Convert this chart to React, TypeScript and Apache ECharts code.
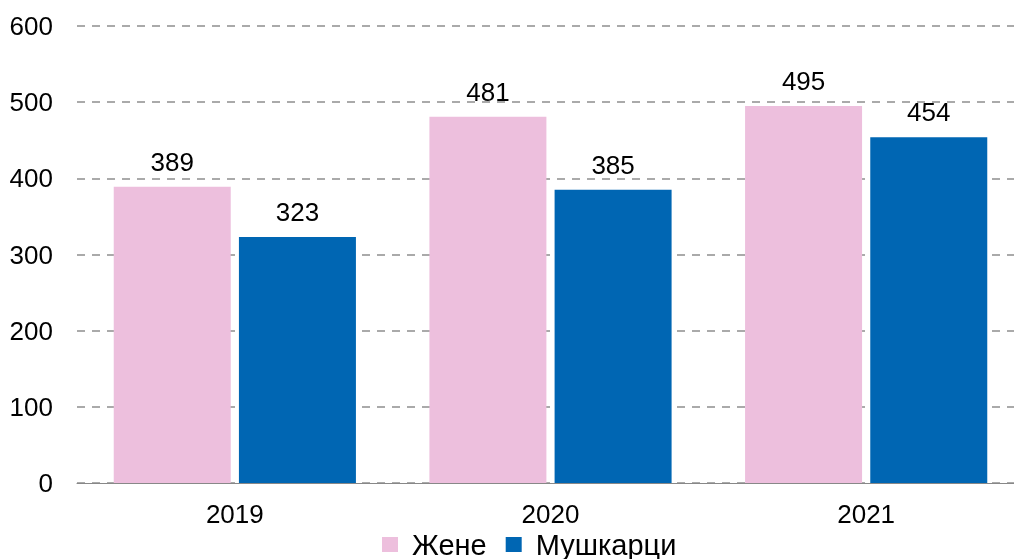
import React, { useEffect, useRef } from "react";
import * as echarts from "echarts";

const categories = ["2019", "2020", "2021"];
const women = [389, 481, 495];
const men = [323, 385, 454];
const seriesNames = ["Жене", "Мушкарци"];

export default function App() {
  const ref = useRef<HTMLDivElement>(null);
  useEffect(() => {
    const chart = echarts.init(ref.current!, null, { renderer: "svg" });
    const font = "Liberation Sans, Arial, sans-serif";
    chart.setOption({
      animation: false,
      textStyle: { fontFamily: font },
      grid: { left: 77, right: 0, top: 26, bottom: 76 },
      legend: {
        top: 530,
        left: 382,
        icon: "rect",
        itemWidth: 16,
        itemHeight: 15,
        itemGap: 19,
        padding: 0,
        textStyle: { fontSize: 29, color: "#000", fontFamily: font, padding: [0, 0, 0, 9] },
        data: seriesNames,
      },
      xAxis: {
        type: "category",
        data: categories,
        axisLine: { lineStyle: { color: "#888", width: 1 } },
        axisTick: { show: false },
        axisLabel: { fontSize: 26, lineHeight: 22, color: "#000", margin: 20, fontFamily: font },
      },
      yAxis: {
        type: "value",
        min: 0,
        max: 600,
        interval: 100,
        axisLine: { show: false },
        axisTick: { show: false },
        axisLabel: { fontSize: 26, color: "#000", margin: 24, fontFamily: font },
        splitLine: { lineStyle: { color: "#aaa", width: 2, type: [8, 7] } },
      },
      series: [
        {
          name: seriesNames[0],
          type: "bar",
          data: women,
          barWidth: 117,
          barGap: "7%",
          itemStyle: { color: "#EDBFDD" },
          label: { show: true, position: "top", distance: 12, fontSize: 26, color: "#000", fontFamily: font },
        },
        {
          name: seriesNames[1],
          type: "bar",
          data: men,
          barWidth: 117,
          barGap: "7%",
          itemStyle: { color: "#0066B3" },
          label: { show: true, position: "top", distance: 12, fontSize: 26, color: "#000", fontFamily: font },
        },
      ],
    });
    return () => chart.dispose();
  }, []);
  return (
    <div style={{ position: "fixed", left: 0, top: 0, width: 1014, height: 559, overflow: "hidden" }}>
      <div ref={ref} style={{ width: 1024, height: 559 }} />
    </div>
  );
}
